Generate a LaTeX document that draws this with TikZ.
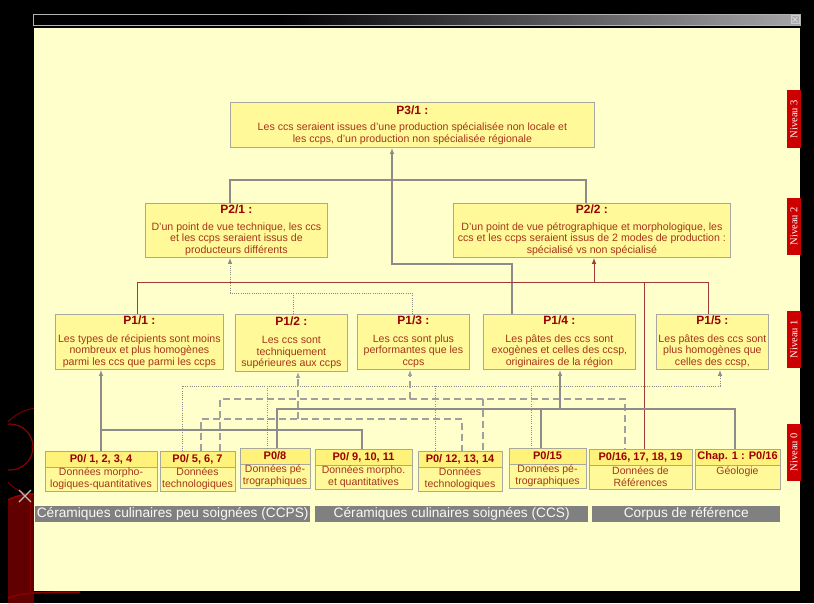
\documentclass[tikz,border=0pt]{standalone}
\usepackage{fontspec}
\setmainfont{Liberation Sans}
\newfontfamily\nivfont{Liberation Serif}
\usetikzlibrary{arrows.meta}
\definecolor{cream}{HTML}{FFFFCC}
\definecolor{boxy}{HTML}{FFF99A}
\definecolor{hdry}{HTML}{FFF27A}
\definecolor{bordg}{HTML}{A8A8A0}
\definecolor{ttl}{HTML}{990000}
\definecolor{txt}{HTML}{A5361A}
\definecolor{lgray}{HTML}{8C8C8C}
\definecolor{dgray}{HTML}{A0A0A0}
\definecolor{lred}{HTML}{A33A3A}
\definecolor{nivred}{HTML}{CC0000}
\definecolor{barg}{HTML}{808080}
\newcommand{\ptitle}[1]{{\fontsize{12}{12}\selectfont\bfseries\color{ttl}#1}}
\tikzset{
  pbox/.style={draw=bordg, fill=boxy, line width=0.8pt, align=center, inner sep=1pt,
    anchor=north west, font=\fontsize{10.6}{11.5}\selectfont, text=txt},
  hbox/.style={draw=bordg, fill=hdry, line width=0.8pt, anchor=north west, outer sep=0pt,
    minimum height=16, inner sep=1pt, font=\fontsize{11}{12}\selectfont\bfseries, text=ttl},
  bbox/.style={draw=bordg, fill=boxy, line width=0.8pt, anchor=north, outer sep=0pt,
    minimum height=24, inner sep=1pt, align=center, font=\fontsize{10.5}{11.8}\selectfont, text=txt},
  barbox/.style={fill=barg, anchor=north west, minimum height=16, inner sep=0pt,
    font=\fontsize{13.7}{15}\selectfont, text=white!95!gray},
  nivbox/.style={fill=nivred, rotate=90, minimum height=14, inner sep=0pt,
    font=\nivfont\fontsize{10.5}{11}\selectfont, text=white},
  gline/.style={draw=lgray, line width=1.3pt},
  rline/.style={draw=lred, line width=1pt},
  dotline/.style={draw=lgray, line width=1pt, dash pattern=on 1pt off 1.2pt},
  dline/.style={draw=dgray, line width=1.5pt, dash pattern=on 7pt off 4pt},
  tip/.style={-{Latex[length=6pt,width=4.5pt]}},
}
\begin{document}
\begin{tikzpicture}[x=1pt,y=-1pt]
\useasboundingbox (0,0) rectangle (814,603);
\fill[black] (0,0) rectangle (814,603);
% left decoration
\begin{scope}
\clip (8,380) rectangle (34,603) (34,591) rectangle (90,603);
\draw[red!45!black, line width=1pt] (40,452) circle (44);
\draw[red!55!black, line width=1.2pt] (10,447) circle (23);
\fill[red!38!black] (8,500) .. controls (15,496) and (25,494) .. (34,494) -- (34,603) -- (8,603) -- cycle;
\draw[red!60!black, line width=1.5pt] (8,500) .. controls (15,496) and (25,494) .. (34,494);
\draw[red!55!black, line width=1.5pt] (8,598) .. controls (20,593) and (40,592) .. (80,592);
\draw[red!50!black, line width=1pt] (30,496) -- (30,591);
\end{scope}
\draw[gray!55, line width=1.2pt] (19,490) -- (31,502) (19,502) -- (31,490);
% title bar
\fill[black] (33,14) rectangle (280,25);
\shade[left color=black, right color=gray!70] (280,14) rectangle (800,25);
\draw[gray!60, line width=0.6pt] (33,14) rectangle (800,25);
\draw[gray!40, fill=gray!65, line width=0.5pt] (791,15.5) rectangle (799,23.5);
\draw[gray!20, line width=0.6pt] (792.5,17) -- (797.5,22) (792.5,22) -- (797.5,17);
% panel
\fill[cream] (34,28) rectangle (800,591);

% level 3
\node[pbox, minimum width=364, minimum height=45] (p31) at (230,102)
 {\ptitle{P3/1 :}\\[5pt]Les ccs seraient issues d'une production spécialisée non locale et\\les ccps, d'un production non spécialisée régionale};
% level 2
\node[pbox, minimum width=182, minimum height=54] (p21) at (145,203)
 {\ptitle{P2/1 :}\\[5pt]D'un point de vue technique, les ccs\\et les ccps seraient issus de\\producteurs différents};
\node[pbox, minimum width=277, minimum height=54] (p22) at (453,203)
 {\ptitle{P2/2 :}\\[5pt]D'un point de vue pétrographique et morphologique, les\\ccs et les ccps seraient issus de 2 modes de production :\\spécialisé vs non spécialisé};
% level 1
\node[pbox, minimum width=168, minimum height=55] (p11) at (55,314)
 {\ptitle{P1/1 :}\\[6pt]Les types de récipients sont moins\\nombreux et plus homogènes\\parmi les ccs que parmi les ccps};
\node[pbox, minimum width=112, minimum height=57] (p12) at (235,314)
 {\ptitle{P1/2 :}\\[7pt]Les ccs sont\\techniquement\\supérieures aux ccps};
\node[pbox, minimum width=112, minimum height=55] (p13) at (357,314)
 {\ptitle{P1/3 :}\\[6pt]Les ccs sont plus\\performantes que les\\ccps};
\node[pbox, minimum width=152, minimum height=55] (p14) at (483,314)
 {\ptitle{P1/4 :}\\[6pt]Les pâtes des ccs sont\\exogènes et celles des ccsp,\\originaires de la région};
\node[pbox, minimum width=112, minimum height=55] (p15) at (656,314)
 {\ptitle{P1/5 :}\\[6pt]Les pâtes des ccs sont\\plus homogènes que\\celles des ccsp,};
% level 0
\node[hbox, minimum width=112] (q1) at (45,451) {P0/ 1, 2, 3, 4};
\node[bbox, minimum width=112] (q1b) at (q1.south) {Données morpho-\\logiques-quantitatives};
\node[hbox, minimum width=75] (q2) at (160,451) {P0/ 5, 6, 7};
\node[bbox, minimum width=75] (q2b) at (q2.south) {Données\\technologiques};
\node[hbox, minimum width=70] (q3) at (240,448) {P0/8};
\node[bbox, minimum width=70] (q3b) at (q3.south) {Données pé-\\trographiques};
\node[hbox, minimum width=97] (q4) at (315,449) {P0/ 9, 10, 11};
\node[bbox, minimum width=97] (q4b) at (q4.south) {Données morpho.\\et quantitatives};
\node[hbox, minimum width=84] (q5) at (418,451) {P0/ 12, 13, 14};
\node[bbox, minimum width=84] (q5b) at (q5.south) {Données\\technologiques};
\node[hbox, minimum width=77] (q6) at (509,448) {P0/15};
\node[bbox, minimum width=77] (q6b) at (q6.south) {Données pé-\\trographiques};
\node[hbox, minimum width=103] (q7) at (589,449) {P0/16, 17, 18, 19};
\node[bbox, minimum width=103] (q7b) at (q7.south) {Données de\\Références};
\node[hbox, minimum width=85] (q8) at (695,449) {Chap. 1 : P0/16};
\node[bbox, minimum width=85] (q8b) at (q8.south) {Géologie\\~};
% bottom bars
\node[barbox, minimum width=275] (c1) at (35,506) {Céramiques culinaires peu soignées (CCPS)};
\node[barbox, minimum width=273] (c2) at (315,506) {Céramiques culinaires soignées (CCS)};
\node[barbox, minimum width=188] (c3) at (592,506) {Corpus de référence};
% niveau labels
\node[nivbox, minimum width=58] (n3) at (794,119) {Niveau 3};
\node[nivbox, minimum width=57] (n2) at (794,226) {Niveau 2};
\node[nivbox, minimum width=57] (n1) at (794,339) {Niveau 1};
\node[nivbox, minimum width=57] (n0) at (794,452) {Niveau 0};

% connectors level 2 -> 3
\coordinate (t1) at (230,180); \coordinate (t2) at (586,180);
\coordinate (t4) at (392,264); \coordinate (t5) at (512,264);
\draw[gline] (t1 |- p21.north) -- (t1) -- (t2) -- (t2 |- p22.north);
\draw[gline, tip] (t5 |- p14.north) -- (t5) -- (t4) -- (t4 |- p31.south);
% red network
\coordinate (r1) at (137,282); \coordinate (r2) at (708,282);
\coordinate (r3) at (594,282); \coordinate (r4) at (644,282);
\draw[rline] (r1 |- p11.north) -- (r1) -- (r2) -- (r2 |- p15.north);
\draw[rline, tip] (r3) -- (r3 |- p22.south);
\draw[rline] (r4) -- (r4 |- q7.north);
% dotted to P2/1
\coordinate (d1) at (230,293); \coordinate (d2) at (412,293); \coordinate (d3) at (293,293);
\draw[dotline] (d2 |- p13.north) -- (d2) -- (d1);
\draw[dotline, tip] (d1) -- (d1 |- p21.south);
\draw[dotline] (d3) -- (d3 |- p12.north);
% dotted to P1/5
\coordinate (g1) at (182,386); \coordinate (g2) at (720,386); \coordinate (g3) at (267,386);
\coordinate (g4) at (435,386); \coordinate (g5) at (531,386);
\draw[dotline] (g1 |- q2.north) -- (g1) -- (g2);
\draw[dotline, tip] (g2) -- (g2 |- p15.south);
\draw[dotline] (g3) -- (g3 |- q3.north);
\draw[dotline] (g4) -- (g4 |- q5.north);
\draw[dotline] (g5) -- (g5 |- q6.north);
% dashed to P1/3
\coordinate (e1) at (220,399); \coordinate (e2) at (625,399);
\coordinate (e3) at (483,399); \coordinate (e4) at (410,399);
\draw[dline] (e1 |- q2.north) -- (e1) -- (e2) -- (e2 |- q7.north);
\draw[dline] (e3) -- (e3 |- q5.north);
\draw[dline, tip] (e4) -- (e4 |- p13.south);
% dashed to P1/2
\coordinate (f1) at (201,419); \coordinate (f2) at (462,419); \coordinate (f3) at (298,419);
\draw[dline] (f1 |- q2.north) -- (f1) -- (f2) -- (f2 |- q5.north);
\draw[dline, tip] (f3) -- (f3 |- p12.south);
% solid to P1/4
\coordinate (u1) at (277,409); \coordinate (u2) at (735,409);
\coordinate (u3) at (541,409); \coordinate (u4) at (560,409);
\draw[gline] (u1 |- q3.north) -- (u1) -- (u2) -- (u2 |- q8.north);
\draw[gline] (u3) -- (u3 |- q6.north);
\draw[gline, tip] (u4) -- (u4 |- p14.south);
% solid to P1/1
\coordinate (s1) at (101,430); \coordinate (s2) at (362,430);
\draw[gline, tip] (s1 |- q1.north) -- (s1 |- p11.south);
\draw[gline] (s1) -- (s2) -- (s2 |- q4.north);
\end{tikzpicture}
\end{document}
